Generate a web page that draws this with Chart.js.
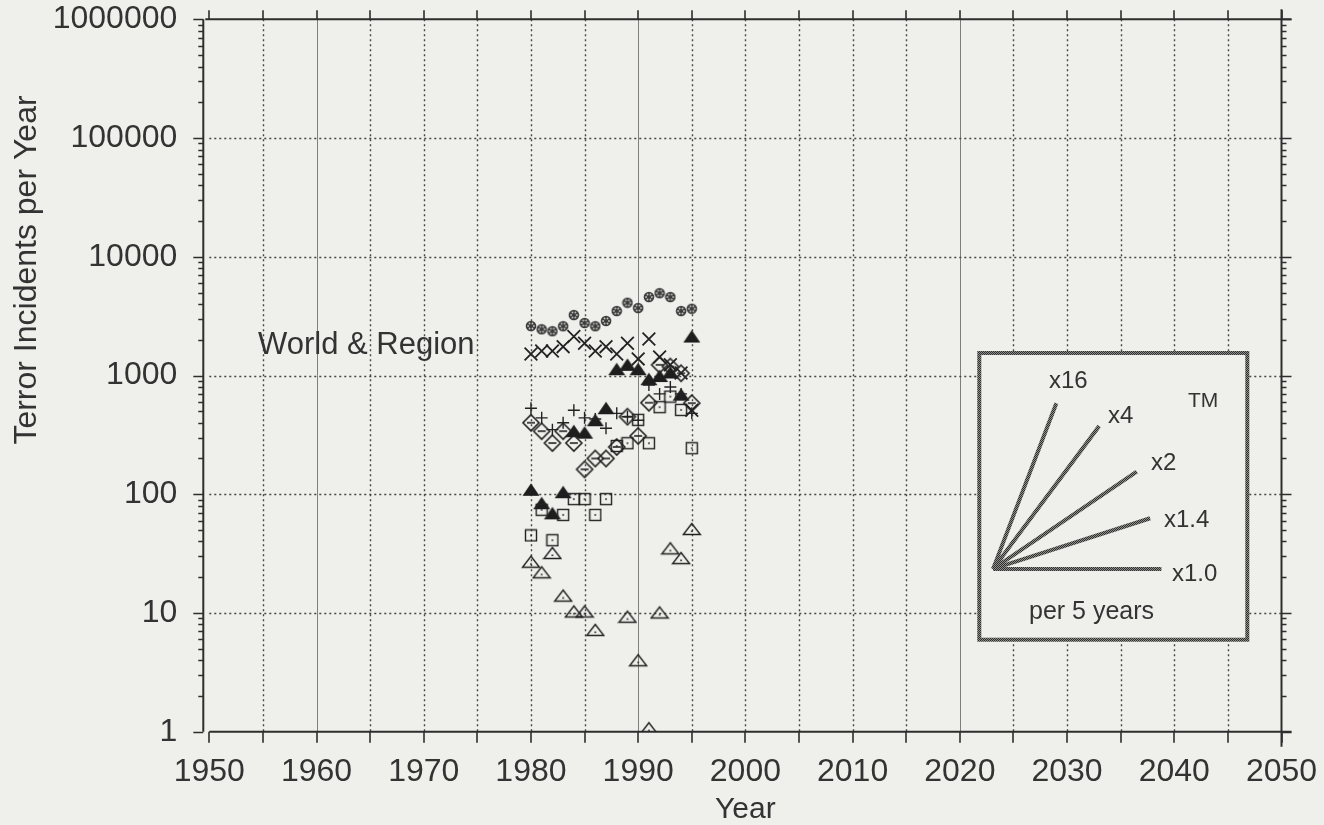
<!DOCTYPE html>
<html>
<head>
<meta charset="utf-8">
<script src="https://cdn.jsdelivr.net/npm/chart.js@4.4.1/dist/chart.umd.min.js"></script>
<style>
  html, body { margin: 0; padding: 0; background: #efefeb; }
</style>
</head>
<body>
<canvas id="myChart" width="1324" height="825"></canvas>
<script>
// years on the x axis, one value per year for each marker series
const years = [1980, 1981, 1982, 1983, 1984, 1985, 1986, 1987, 1988, 1989, 1990, 1991, 1992, 1993, 1994, 1995];
const world = [2610, 2450, 2360, 2600, 3230, 2770, 2600, 2880, 3490, 4100, 3700, 4580, 4940, 4580, 3490, 3650];
const crosses = [1520, 1610, 1610, 1750, 2130, 1870, 1610, 1750, 1520, 1870, 1380, 2030, 1430, 1230, 1050, 510];
const filledTri = [109, 84, 69, 104, 340, 330, 420, 530, 1130, 1230, 1130, 930, 990, 1060, 690, 2130];
const pluses = [530, 440, 350, 400, 510, 440, 430, 360, 480, 450, 420, 830, 700, 800, 700, 480];
const diamonds = [400, 340, 270, 340, 270, 162, 200, 200, 250, 450, 310, 590, 1230, 1190, 1045, 585];
const squares = [45, 74, 41, 67, 91, 91, 67, 91, 255, 269, 423, 269, 541, 664, 513, 244];
const openTri = [27, 22, 32, 14, 10.3, 10.3, 7.2, null, null, 9.3, 4.0, 1.07, 10.1, 35, 29, 51];

// growth fan in the inset: common start, end of each ray
const fanStart = [2023.1, 23.5];
const fanEndYears = [2029.0, 2033.0, 2036.5, 2037.75, 2038.8];
const fanEndValues = [584, 376, 155, 62.8, 23.5];
const fanLabels = ['x16', 'x4', 'x2', 'x1.4', 'x1.0'];

const yTicks = [1, 10, 100, 1000, 10000, 100000, 1000000];

const FONT = "'Liberation Sans', Arial, Helvetica, sans-serif";
const INK = '#333';
const BG = '#efefeb';

const ctx = document.getElementById('myChart').getContext('2d');

function checker(dark, light) {
  const c = document.createElement('canvas');
  c.width = 2; c.height = 2;
  const g = c.getContext('2d');
  g.fillStyle = light; g.fillRect(0, 0, 2, 2);
  g.fillStyle = dark; g.fillRect(0, 0, 1, 1); g.fillRect(1, 1, 1, 1);
  return ctx.createPattern(c, 'repeat');
}
const hatch = checker('#2e2e2e', '#8e8e8b');

function marker(w, h, draw) {
  const c = document.createElement('canvas');
  c.width = w; c.height = h;
  const g = c.getContext('2d');
  g.translate(w / 2, h / 2);
  draw(g);
  return c;
}

const rosette = marker(12, 12, g => {
  g.fillStyle = '#3c3c3c';
  g.beginPath(); g.arc(0, 0, 5.3, 0, Math.PI * 2); g.fill();
  g.fillStyle = '#c8c8c4';
  for (let k = 0; k < 6; k++) {
    const a = k * Math.PI / 3;
    g.beginPath(); g.arc(Math.cos(a) * 2.9, Math.sin(a) * 2.9, 0.9, 0, Math.PI * 2); g.fill();
  }
});
const diamond = marker(20, 20, g => {
  g.strokeStyle = '#222'; g.lineWidth = 1.6;
  g.beginPath(); g.moveTo(0, -8); g.lineTo(8, 0); g.lineTo(0, 8); g.lineTo(-8, 0); g.closePath(); g.stroke();
  g.beginPath(); g.moveTo(-4, 0); g.lineTo(4, 0); g.stroke();
});
const square = marker(14, 14, g => {
  g.strokeStyle = '#222'; g.lineWidth = 1.4;
  g.strokeRect(-5.5, -5.5, 11, 11);
  g.fillStyle = '#222'; g.fillRect(-0.8, -0.8, 1.6, 1.6);
});
const triOpen = marker(20, 16, g => {
  g.strokeStyle = '#222'; g.lineWidth = 1.4;
  g.beginPath(); g.moveTo(0, -5.5); g.lineTo(8.5, 5.5); g.lineTo(-8.5, 5.5); g.closePath(); g.stroke();
  g.fillStyle = '#222'; g.fillRect(-0.8, 1.5, 1.6, 1.6);
});
const triFill = marker(20, 16, g => {
  g.fillStyle = '#1e1e1e';
  g.beginPath(); g.moveTo(0, -6.5); g.lineTo(8.5, 6); g.lineTo(-8.5, 6); g.closePath(); g.fill();
});

function points(vals) {
  return years.map((yr, i) => ({ x: yr, y: vals[i] })).filter(p => p.y != null);
}

function series(vals, style, extra) {
  return Object.assign({
    data: points(vals),
    pointStyle: style,
    pointRadius: 5,
    borderColor: '#222',
    backgroundColor: '#222',
    showLine: false
  }, extra || {});
}

const datasets = [
  series(world, rosette),
  series(crosses, 'crossRot', { pointRadius: 9, pointBorderWidth: 1.8 }),
  series(pluses, 'cross', { pointRadius: 6, pointBorderWidth: 1.4 }),
  series(diamonds, diamond),
  series(squares, square),
  series(openTri, triOpen),
  series(filledTri, triFill)
];

fanEndYears.forEach((yr, i) => {
  datasets.push({
    data: [{ x: fanStart[0], y: fanStart[1] }, { x: yr, y: fanEndValues[i] }],
    showLine: true,
    borderColor: hatch,
    borderWidth: 4,
    borderCapStyle: 'butt',
    pointRadius: 0
  });
});

const frame = {
  id: 'frame',
  beforeDraw(chart) {
    const c = chart.ctx;
    c.save();
    c.fillStyle = BG;
    c.fillRect(0, 0, chart.width, chart.height);
    c.restore();
  },
  beforeDatasetsDraw(chart) {
    const c = chart.ctx;
    const a = chart.chartArea;
    const xs = chart.scales.x, ys = chart.scales.y;
    c.save();

    // vertical grid every 5 years
    for (let yr = 1955; yr < 2050; yr += 5) {
      const px = Math.round(xs.getPixelForValue(yr)) + 0.5;
      c.beginPath();
      if (yr === 1960 || yr === 1990 || yr === 2020) {
        c.setLineDash([]); c.strokeStyle = 'rgba(50,50,50,0.6)'; c.lineWidth = 1;
      } else {
        c.setLineDash([2, 3]); c.strokeStyle = '#444'; c.lineWidth = 1.4;
      }
      c.moveTo(px, a.top); c.lineTo(px, a.bottom); c.stroke();
    }
    // horizontal grid each decade
    c.setLineDash([2, 3]); c.strokeStyle = '#444'; c.lineWidth = 1.4;
    yTicks.slice(1, -1).forEach(v => {
      const py = Math.round(ys.getPixelForValue(v)) + 0.5;
      c.beginPath(); c.moveTo(a.left, py); c.lineTo(a.right, py); c.stroke();
    });
    c.setLineDash([]);

    // axes frame
    c.strokeStyle = '#2e2e2e';
    c.lineWidth = 2;
    const lx = a.left - 6;
    c.beginPath();
    c.moveTo(a.left, a.bottom); c.lineTo(a.right + 10, a.bottom);
    c.moveTo(lx + 2, a.top); c.lineTo(a.right + 10, a.top);
    c.moveTo(lx, a.top); c.lineTo(lx, a.bottom);
    c.moveTo(a.right, a.top - 10); c.lineTo(a.right, a.bottom + 15);
    c.stroke();

    c.lineWidth = 1.6;
    c.beginPath();
    for (let yr = 1950; yr <= 2050; yr += 5) {
      const px = Math.round(xs.getPixelForValue(yr));
      c.moveTo(px, a.bottom); c.lineTo(px, a.bottom + 11);
      c.moveTo(px, a.top); c.lineTo(px, a.top - 9);
    }
    for (let d = 0; d < 6; d++) {
      for (let m = 1; m <= 9; m++) {
        const v = Math.pow(10, d) * m;
        const py = Math.round(ys.getPixelForValue(v)) + 0.5;
        const len = m === 1 ? 10 : 5;
        c.moveTo(lx - len, py); c.lineTo(lx, py);
        c.moveTo(a.right, py); c.lineTo(a.right + len, py);
      }
    }
    const pTop = Math.round(ys.getPixelForValue(1e6)) + 0.5;
    c.moveTo(lx - 10, pTop); c.lineTo(lx, pTop);
    c.moveTo(a.right, pTop); c.lineTo(a.right + 10, pTop);
    c.stroke();

    // inset box
    c.fillStyle = BG;
    c.fillRect(979, 353, 268, 287);
    c.strokeStyle = hatch;
    c.lineWidth = 4;
    c.strokeRect(979.3, 353, 268, 286.7);
    c.restore();
  },
  afterDraw(chart) {
    const c = chart.ctx;
    c.save();
    c.fillStyle = INK;
    c.textBaseline = 'alphabetic';
    c.textAlign = 'left';

    c.font = '31px ' + FONT;
    c.fillText('World & Region', 258, 354);

    c.save();
    c.translate(36, 270);
    c.rotate(-Math.PI / 2);
    c.textAlign = 'center';
    c.font = '32px ' + FONT;
    c.fillText('Terror Incidents per Year', 0, 0);
    c.restore();

    c.font = '24px ' + FONT;
    const spots = [[1049, 388], [1108, 423], [1151, 470], [1164, 527], [1172, 581]];
    fanLabels.forEach((t, i) => c.fillText(t, spots[i][0], spots[i][1]));
    c.font = '25px ' + FONT;
    c.fillText('per 5 years', 1029, 619);
    c.font = "21px 'Liberation Sans Narrow', " + FONT;
    c.fillText('TM', 1188, 407);
    c.restore();
  }
};

new Chart(ctx, {
  type: 'scatter',
  data: { datasets: datasets },
  options: {
    responsive: false,
    animation: false,
    devicePixelRatio: 1,
    layout: { padding: { left: 0, top: 19.3, right: 42.5, bottom: 0 } },
    plugins: { legend: { display: false }, tooltip: { enabled: false } },
    scales: {
      x: {
        type: 'linear',
        min: 1950,
        max: 2050,
        ticks: {
          stepSize: 10, color: INK, font: { family: FONT, size: 32 }, padding: 21, maxRotation: 0,
          callback: v => String(v)
        },
        grid: { display: false, drawTicks: false },
        border: { display: false },
        title: {
          display: true,
          text: 'Year',
          color: INK,
          font: { family: FONT, size: 30, lineHeight: 1 },
          padding: { top: 0, bottom: 0 }
        },
        afterFit: s => {
          s.height = 825 - 731.7;
          s.paddingLeft = 0; s.paddingRight = 0;
        }
      },
      y: {
        type: 'logarithmic',
        min: 1,
        max: 1000000,
        afterBuildTicks: s => { s.ticks = yTicks.map(v => ({ value: v })); },
        ticks: {
          color: INK,
          font: { family: FONT, size: 32 },
          padding: 32,
          callback: v => String(v)
        },
        grid: { display: false, drawTicks: false },
        border: { display: false },
        afterFit: s => {
          s.width = 209.3;
          s.paddingTop = 0; s.paddingBottom = 0;
        }
      }
    }
  },
  plugins: [frame]
});
</script>
</body>
</html>
